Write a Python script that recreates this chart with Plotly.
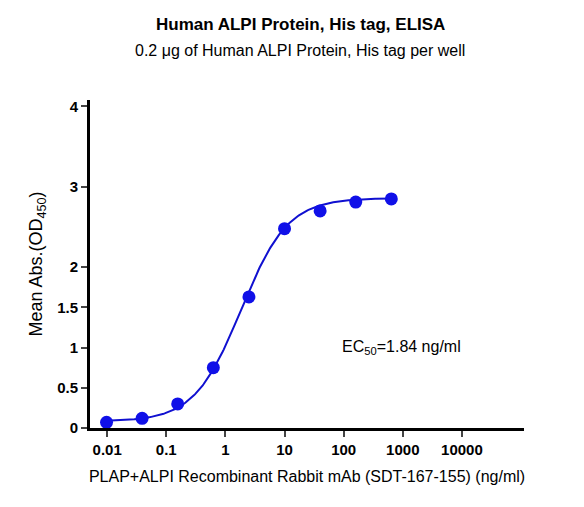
import numpy as np
import plotly.graph_objects as go

conc = [0.00977, 0.039, 0.156, 0.625, 2.5, 10, 40, 160, 640]
od = [0.07, 0.12, 0.30, 0.75, 1.63, 2.48, 2.70, 2.81, 2.85]
# 4PL fit parameters
bottom, top, ec50, hill = 0.08, 2.86, 1.84, 1.1
xtick_vals = [0.01, 0.1, 1, 10, 100, 1000, 10000]
xtick_text = ["0.01", "0.1", "1", "10", "100", "1000", "10000"]
ytick_vals = [0, 0.5, 1, 1.5, 2, 3, 4]
ytick_text = ["0", "0.5", "1", "1.5", "2", "3", "4"]

xc = np.logspace(np.log10(conc[0]), np.log10(conc[-1]), 300)
yc = bottom + (top - bottom) / (1 + (ec50 / xc) ** hill)

W, H = 584, 507
L, R, T, B = 82, 68, 92, 87
pw, ph = W - L - R, H - T - B

fig = go.Figure()
fig.add_trace(go.Scatter(x=xc, y=yc, mode="lines", line=dict(color="#1010d0", width=2), hoverinfo="skip"))
fig.add_trace(go.Scatter(x=conc, y=od, mode="markers", marker=dict(color="#1010e8", size=13)))

cx = (W / 2 - L) / pw
fig.update_layout(
    width=W, height=H, showlegend=False, plot_bgcolor="white", paper_bgcolor="white",
    margin=dict(l=L, r=R, t=T, b=B),
    font=dict(family="Liberation Sans, Arial", size=16, color="black"),
    annotations=[
        dict(text="<b>Human ALPI Protein, His tag, ELISA</b>", x=cx, xref="paper", y=(H - B - 16) / ph, yref="paper",
             yanchor="middle", showarrow=False, font=dict(size=17)),
        dict(text="0.2 μg of Human ALPI Protein, His tag per well", x=cx, xref="paper", y=(H - B - 43) / ph, yref="paper",
             yanchor="middle", showarrow=False, font=dict(size=16)),
        dict(text="EC<sub>50</sub>=1.84 ng/ml", x=(H and (332 - L) / pw), xref="paper", y=1.0, yref="y",
             xanchor="left", yanchor="middle", showarrow=False, font=dict(size=16)),
    ],
)

fig.update_xaxes(type="log", range=[-2.29, 5.05], tickvals=xtick_vals, ticktext=[f"<b>{t}</b>" for t in xtick_text],
                 showline=True, linecolor="black", linewidth=3, ticks="outside", tickwidth=2, ticklen=6,
                 showgrid=False, zeroline=False, tickfont=dict(size=15),
                 title=dict(text="PLAP+ALPI Recombinant Rabbit mAb (SDT-167-155) (ng/ml)", font=dict(size=16), standoff=14))
fig.update_yaxes(range=[0, 4.08], tickvals=ytick_vals, ticktext=[f"<b>{t}</b>" for t in ytick_text],
                 showline=True, linecolor="black", linewidth=3, ticks="outside", tickwidth=2, ticklen=6,
                 showgrid=False, zeroline=False, tickfont=dict(size=15),
                 title=dict(text="Mean Abs.(OD<sub>450</sub>)", font=dict(size=18), standoff=10))
fig.write_html("out.html")
